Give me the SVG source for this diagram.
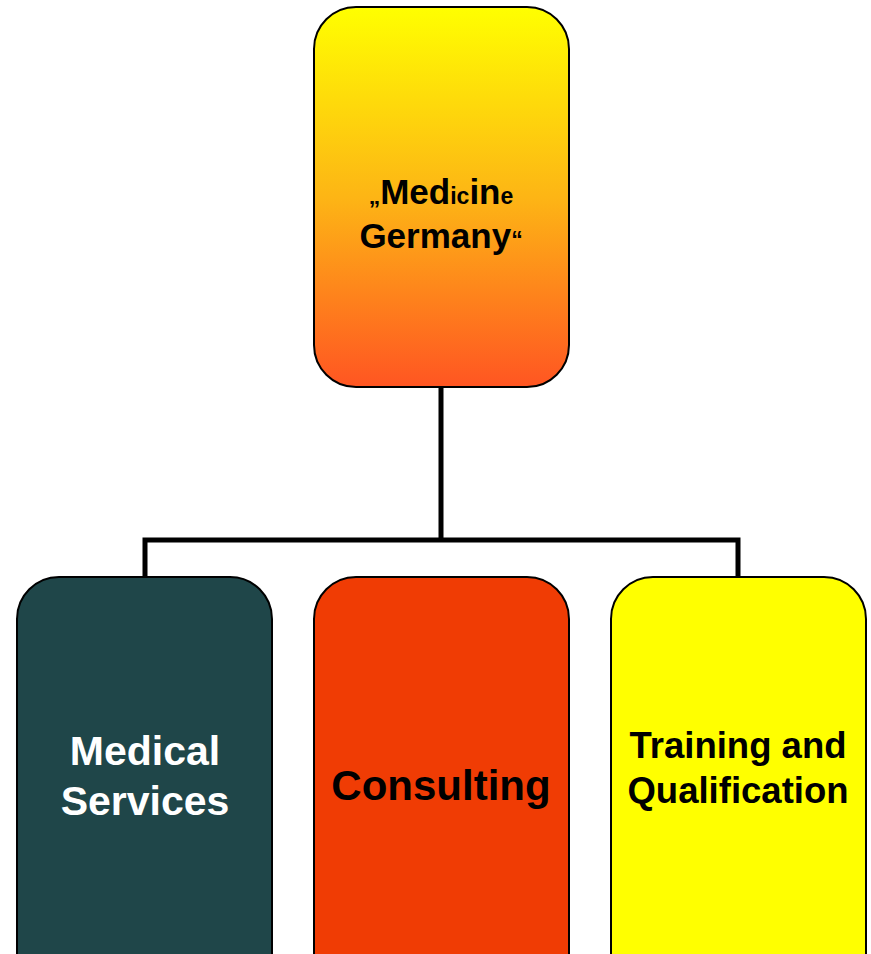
<svg xmlns="http://www.w3.org/2000/svg" width="871" height="954" viewBox="0 0 871 954">
<defs>
<linearGradient id="g1" x1="0" y1="0" x2="0" y2="1">
<stop offset="0" stop-color="#FFFF00"/>
<stop offset="0.5" stop-color="#FDB515"/>
<stop offset="1" stop-color="#FF5522"/>
</linearGradient>
<style>
.box{stroke:#000;stroke-width:2}
.t{font-family:"Liberation Sans",Arial,sans-serif;font-weight:bold;text-anchor:middle}
.c{fill:none;stroke:#000;stroke-width:5}
</style>
</defs>
<rect width="871" height="954" fill="#fff"/>
<g id="connectors">
<path class="c" d="M441,387 V540"/>
<path class="c" d="M145,577 V540 H738 V577"/>
</g>
<g id="top">
<rect class="box" x="314" y="7" width="255" height="380" rx="42" fill="url(#g1)"/>
<text class="t" font-size="35" x="441" y="204"><tspan font-size="23">„</tspan>Med<tspan font-size="23">ic</tspan>in<tspan font-size="23">e</tspan></text>
<text class="t" font-size="35" x="441" y="248">Germany<tspan font-size="23">“</tspan></text>
</g>
<g id="medical">
<rect class="box" x="17" y="577" width="255" height="420" rx="42" fill="#1F4649"/>
<text class="t" font-size="41" fill="#fff" x="145" y="765">Medical</text>
<text class="t" font-size="41" fill="#fff" x="145" y="815">Services</text>
</g>
<g id="consulting">
<rect class="box" x="314" y="577" width="255" height="420" rx="42" fill="#F03C04"/>
<text class="t" font-size="42" x="441" y="800">Consulting</text>
</g>
<g id="training">
<rect class="box" x="611" y="577" width="255" height="420" rx="42" fill="#FFFF00"/>
<text class="t" font-size="36.5" x="738" y="758">Training and</text>
<text class="t" font-size="36.5" x="738" y="803">Qualification</text>
</g>
</svg>
